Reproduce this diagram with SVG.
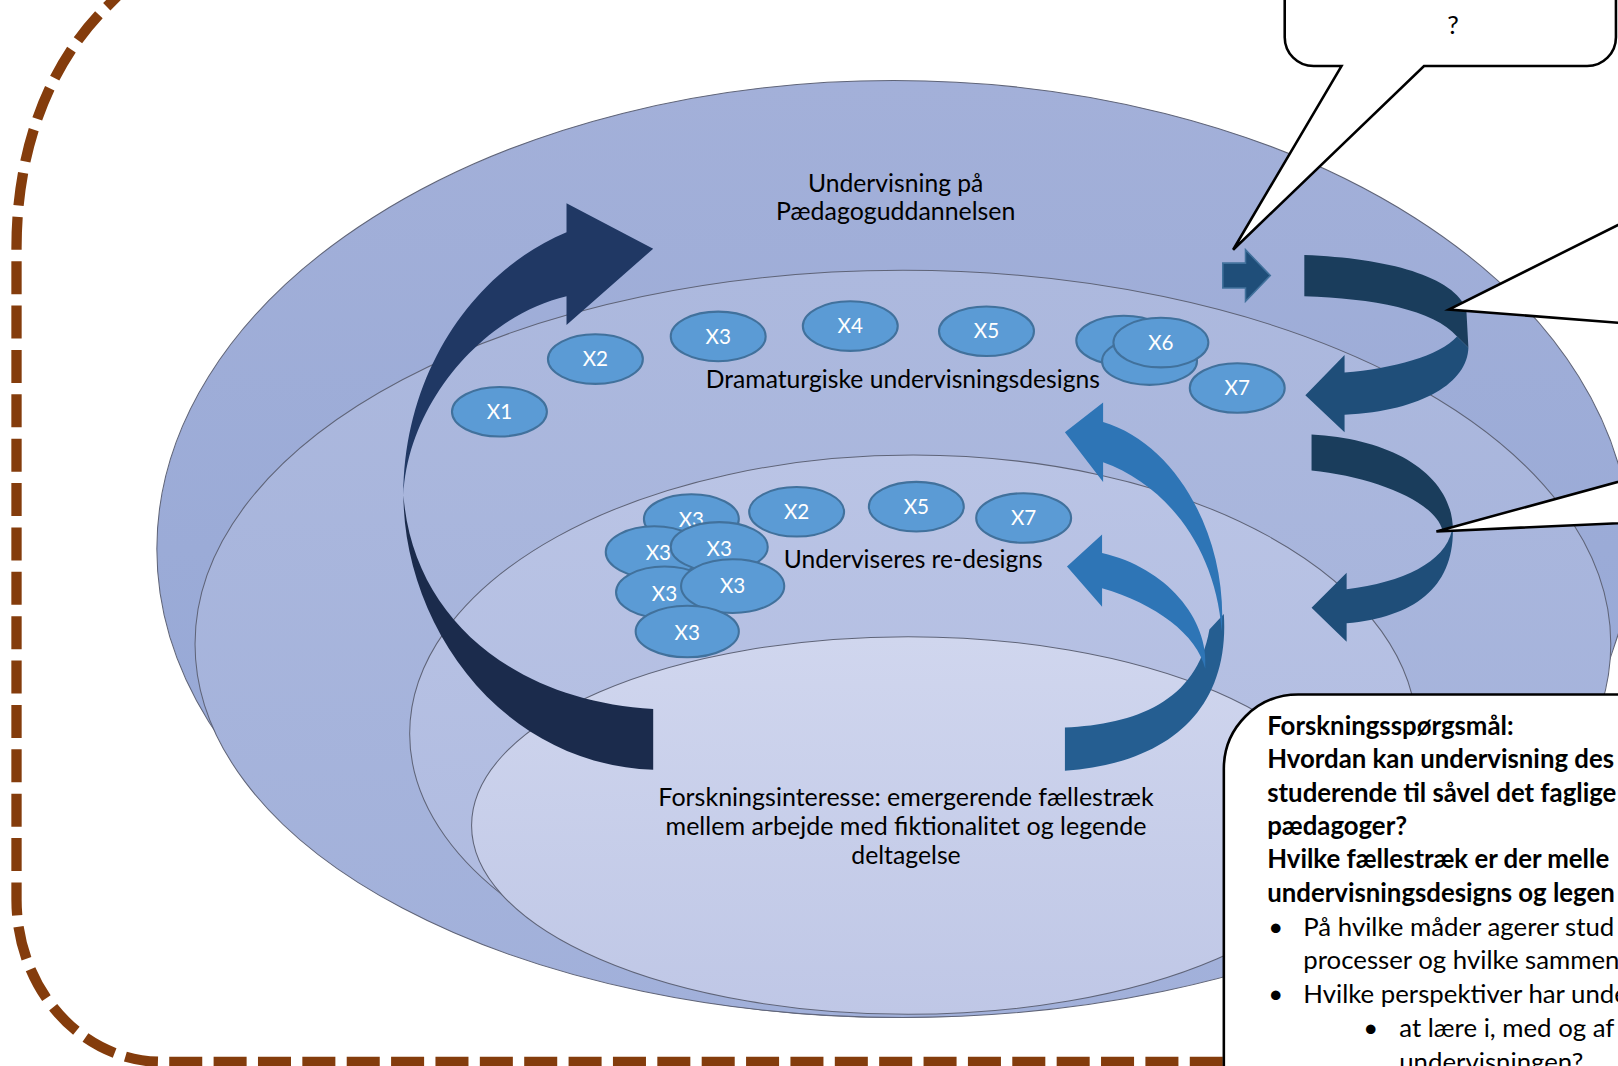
<svg xmlns="http://www.w3.org/2000/svg" width="1618" height="1066" viewBox="0 0 1618 1066">
<defs>
<linearGradient id="g1" x1="0" y1="0" x2="0" y2="1"><stop offset="0" stop-color="#a3b0d9"/><stop offset="1" stop-color="#93a6d5"/></linearGradient>
<linearGradient id="g2" x1="0" y1="0" x2="0" y2="1"><stop offset="0" stop-color="#adb9de"/><stop offset="1" stop-color="#a1b0da"/></linearGradient>
<linearGradient id="g3" x1="0" y1="0" x2="0" y2="1"><stop offset="0" stop-color="#bac4e5"/><stop offset="1" stop-color="#adb9df"/></linearGradient>
<linearGradient id="g4" x1="0" y1="0" x2="0" y2="1"><stop offset="0" stop-color="#d0d6ee"/><stop offset="1" stop-color="#bfc7e6"/></linearGradient>
</defs>
<style>
.ring{stroke:#5f6478;stroke-width:1}
.node ellipse{fill:#5b9bd5;stroke:#41719c;stroke-width:2}
.node text{fill:#fff;font-family:Lato,"Liberation Sans",sans-serif;font-size:20px;text-anchor:middle}
.lbl{fill:#000;font-family:Lato,"Liberation Sans",sans-serif;font-size:24px;text-anchor:middle}
.box{fill:#fff;stroke:#000;stroke-width:2.5}
.bt{fill:#000;font-family:Lato,"Liberation Sans",sans-serif;font-size:25px}
.b{font-weight:bold}
</style>
<rect width="1618" height="1066" fill="#fff"/>
<g transform="scale(1.0319)">
<g id="frame">
<path d="M1400,1029 L157,1029 A141,157 0 0 1 16,872 L16,240 C16,140 50,60 102,8 L130,-20" fill="none" stroke="#843c0c" stroke-width="10" stroke-dasharray="32 11"/>
</g>
<g id="layers">
<ellipse id="layer1" class="ring" cx="866" cy="532" rx="714" ry="454" fill="url(#g1)"/>
<ellipse id="layer2" class="ring" cx="875" cy="624" rx="686" ry="362" fill="url(#g2)"/>
<ellipse id="layer3" class="ring" cx="885" cy="711" rx="488" ry="270" fill="url(#g3)"/>
<ellipse id="layer4" class="ring" cx="880" cy="800" rx="423" ry="183" fill="url(#g4)"/>
</g>
<g id="labels">
<text class="lbl" x="868" y="186" textLength="170" lengthAdjust="spacingAndGlyphs">Undervisning på</text>
<text class="lbl" x="868" y="213" textLength="232" lengthAdjust="spacingAndGlyphs">Pædagoguddannelsen</text>
<text class="lbl" x="875" y="376" textLength="382" lengthAdjust="spacingAndGlyphs">Dramaturgiske undervisningsdesigns</text>
<text class="lbl" x="885" y="550" textLength="251" lengthAdjust="spacingAndGlyphs">Underviseres re-designs</text>
<text class="lbl" x="878" y="781" textLength="480" lengthAdjust="spacingAndGlyphs">Forskningsinteresse: emergerende fællestræk</text>
<text class="lbl" x="878" y="809" textLength="466" lengthAdjust="spacingAndGlyphs">mellem arbejde med fiktionalitet og legende</text>
<text class="lbl" x="878" y="837" textLength="106" lengthAdjust="spacingAndGlyphs">deltagelse</text>
</g>
<g id="n-x1" class="node"><ellipse cx="484" cy="399" rx="46" ry="24"/><text x="484" y="406">X1</text></g>
<g id="n-x2" class="node"><ellipse cx="577" cy="348" rx="46" ry="24"/><text x="577" y="355">X2</text></g>
<g id="n-x3" class="node"><ellipse cx="696" cy="326" rx="46" ry="24"/><text x="696" y="333">X3</text></g>
<g id="n-x4" class="node"><ellipse cx="824" cy="316" rx="46" ry="24"/><text x="824" y="323">X4</text></g>
<g id="n-x5" class="node"><ellipse cx="956" cy="321" rx="46" ry="24"/><text x="956" y="328">X5</text></g>
<g id="n-hidden-a" class="node"><ellipse cx="1089" cy="330" rx="46" ry="24"/></g>
<g id="n-hidden-b" class="node"><ellipse cx="1114" cy="350" rx="46" ry="23"/></g>
<g id="n-x6" class="node"><ellipse cx="1125" cy="332" rx="46" ry="24"/><text x="1125" y="339">X6</text></g>
<g id="n-x7" class="node"><ellipse cx="1199" cy="376" rx="46" ry="24"/><text x="1199" y="383">X7</text></g>
<g id="r-x3a" class="node"><ellipse cx="670" cy="503" rx="46" ry="24"/><text x="670" y="511">X3</text></g>
<g id="r-x3b" class="node"><ellipse cx="634" cy="535" rx="47" ry="25"/><text x="638" y="543">X3</text></g>
<g id="r-x3c" class="node"><ellipse cx="697" cy="530" rx="47" ry="24"/><text x="697" y="539">X3</text></g>
<g id="r-x3d" class="node"><ellipse cx="644" cy="574" rx="47" ry="25"/><text x="644" y="582">X3</text></g>
<g id="r-x3e" class="node"><ellipse cx="710" cy="568" rx="50" ry="26"/><text x="710" y="575">X3</text></g>
<g id="r-x3f" class="node"><ellipse cx="666" cy="612" rx="50" ry="25"/><text x="666" y="620">X3</text></g>
<g id="r-x2" class="node"><ellipse cx="772" cy="496" rx="46" ry="24"/><text x="772" y="503">X2</text></g>
<g id="r-x5" class="node"><ellipse cx="888" cy="491" rx="46" ry="24"/><text x="888" y="498">X5</text></g>
<g id="r-x7" class="node"><ellipse cx="992" cy="502" rx="46" ry="24"/><text x="992" y="509">X7</text></g>
<g id="connectors">
<path d="M391,480 C391,600 480,740 633,746 L633,687 C500,680 400,600 391,480 Z" fill="#1b2b4c"/>
<path d="M549,225 L549,197 L633,241 L549,315 L549,287 C470,305 395,390 391,480 C391,360 460,262 549,225 Z" fill="#203864"/>
<path d="M1186,595 C1192,690 1130,740 1032,747 L1032,705 C1100,702 1160,680 1172,610 Z" fill="#255e91"/>
<path d="M1068,536 L1068,518 L1034,549 L1068,588 L1068,570 C1120,585 1160,615 1168,648 C1172,600 1130,550 1068,536 Z" fill="#2e75b6"/>
<path d="M1069,409 L1069,390 L1032,419 L1069,467 L1069,448 C1130,470 1178,530 1184,612 C1190,520 1140,430 1069,409 Z" fill="#2e75b6"/>
<path d="M1264,247 C1345,250 1410,268 1421,300 L1423,337 L1412,326 C1390,300 1330,289 1264,287 Z" fill="#1a3d5c"/>
<path d="M1412,326 L1423,337 C1422,370 1380,398 1303,402 L1303,419 L1265,383 L1303,344 L1303,361 C1350,357 1395,345 1412,326 Z" fill="#1f4e79"/>
<path d="M1271,421 C1350,425 1408,460 1408,514 L1398,514 C1390,485 1330,462 1271,456 Z" fill="#1a3d5c"/>
<path d="M1408,514 C1408,570 1370,598 1305,604 L1305,622 L1271,589 L1305,555 L1305,571 C1360,564 1400,545 1407,514 Z" fill="#1f4e79"/>
<path d="M1185,255 L1207,255 L1207,242 L1231,267 L1207,292 L1207,279 L1185,279 Z" fill="#1f4e79" stroke="#41719c" stroke-width="1.5"/>
</g>
<g id="callout-top">
<path class="box" d="M1300,64 L1195,242 L1380,64 L1538,64 A28,28 0 0 0 1566,36 L1566,-30 L1245,-30 L1245,36 A28,28 0 0 0 1273,64 Z"/>
<text class="bt" x="1408" y="33" text-anchor="middle" font-size="22">?</text>
</g>
<g id="callout-right-1"><path class="box" d="M1700,152 L1404,300 L1700,323 Z"/></g>
<g id="callout-right-2"><path class="box" d="M1700,431 L1392,515 L1700,501 Z"/></g>
<g id="research-box">
<rect class="box" x="1186" y="673" width="600" height="500" rx="72" ry="72"/>
<text class="bt b" x="1228" y="712">Forskningsspørgsmål:</text>
<text class="bt b" x="1228" y="744">Hvordan kan undervisning des</text>
<text class="bt b" x="1228" y="777">studerende til såvel det faglige</text>
<text class="bt b" x="1228" y="809">pædagoger?</text>
<text class="bt b" x="1228" y="841">Hvilke fællestræk er der melle</text>
<text class="bt b" x="1228" y="874">undervisningsdesigns og legen</text>
<text class="bt" x="1229" y="907">•</text>
<text class="bt" x="1263" y="907">På hvilke måder agerer stud</text>
<text class="bt" x="1263" y="939">processer og hvilke sammen</text>
<text class="bt" x="1229" y="972">•</text>
<text class="bt" x="1263" y="972">Hvilke perspektiver har unde</text>
<text class="bt" x="1321" y="1005">•</text>
<text class="bt" x="1356" y="1005">at lære i, med og af</text>
<text class="bt" x="1356" y="1038">undervisningen?</text>
</g>
</g>
</svg>
